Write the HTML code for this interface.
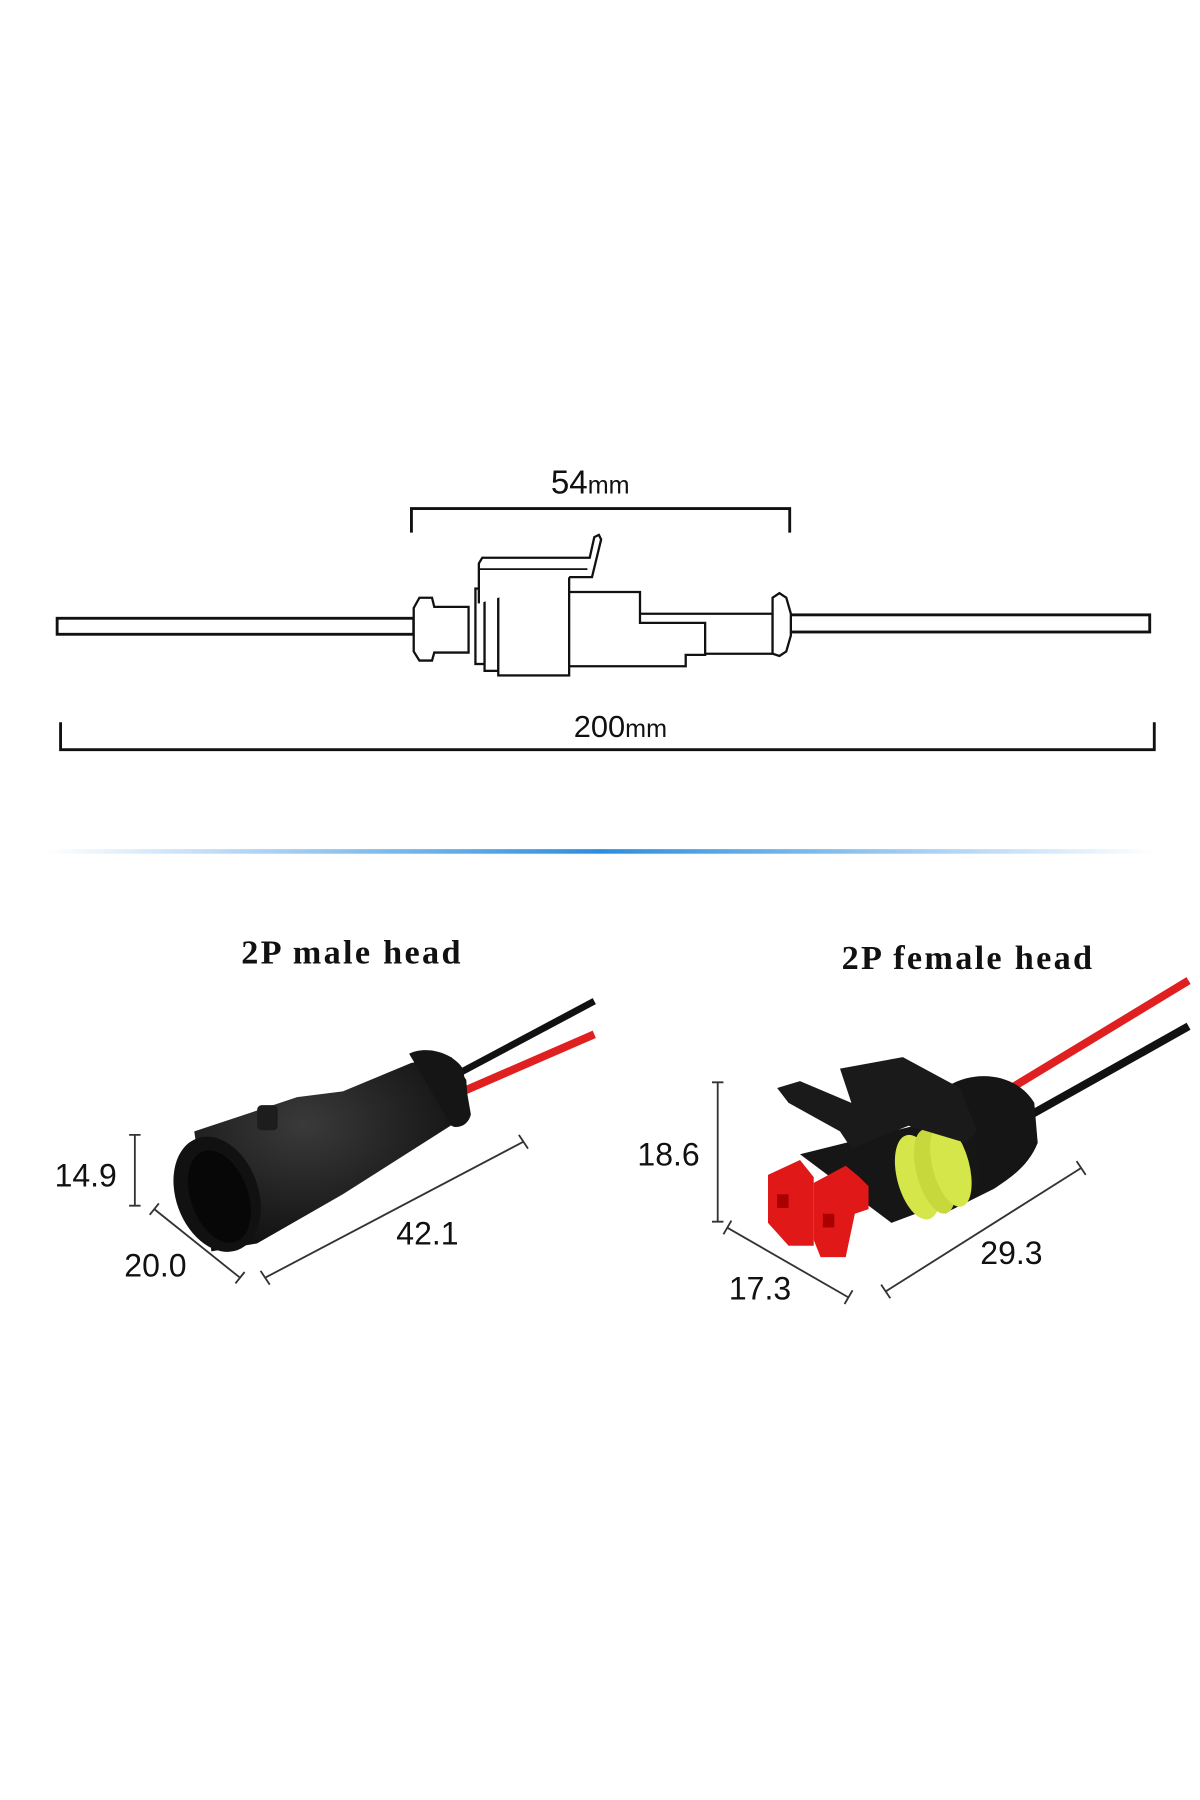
<!DOCTYPE html>
<html><head><meta charset="utf-8"><style>
html,body{margin:0;padding:0;background:#fff;}
svg{display:block;}
</style></head><body>
<svg width="1200" height="1800" viewBox="0 0 1050 1575" preserveAspectRatio="none" xmlns="http://www.w3.org/2000/svg">
<defs>
<linearGradient id="bl" x1="0" x2="1" y1="0" y2="0">
<stop offset="0" stop-color="#fff"/><stop offset="0.5" stop-color="#2a8ee0"/><stop offset="1" stop-color="#fff"/>
</linearGradient>
<radialGradient id="blk" cx="0.4" cy="0.35" r="0.7"><stop offset="0" stop-color="#3a3a3a"/><stop offset="1" stop-color="#0d0d0d"/></radialGradient>
</defs>
<rect width="1050" height="1575" fill="#fff"/>
<g fill="none" stroke="#111" stroke-width="2.5">
<path d="M360 466 V445 H691 V466"/>
<path d="M53 632 V656 H1010 V632"/>
<rect x="50" y="541" width="312" height="14" fill="#fff"/>
<rect x="690" y="538" width="316" height="15" fill="#fff"/>
<path d="M362 560 V532 L367 523 H378 L380 531 H410 V571 H380 L378 578 H367 L362 570 Z" fill="#fff" stroke-width="2"/>
<path d="M560 537 H676 V572 H560" fill="#fff" stroke-width="2"/>
<path d="M676 523 L682 519 L688 523 L692 537 V556 L688 570 L682 574 L676 572 Z" fill="#fff" stroke-width="2"/>
<path d="M497 518 H560 V545 H617 V573 H600 V583 H497" fill="#fff" stroke-width="2"/>
<rect x="416" y="515" width="8" height="66" fill="#fff" stroke-width="2"/>
<rect x="424" y="507" width="12" height="80" fill="#fff" stroke-width="2"/>
<rect x="436" y="503" width="62" height="88" fill="#fff" stroke-width="2"/>
<path d="M419 528 V493 L422 488 H516 L520 470 L524 468 L526 472 L518 505 H498" fill="#fff" stroke-width="2"/>
<path d="M420 498 H514" stroke-width="1.5"/>
</g>
<text x="482" y="432" font-family="Liberation Sans, sans-serif" font-size="29" fill="#111">54<tspan font-size="22">mm</tspan></text>
<text x="502" y="645" font-family="Liberation Sans, sans-serif" font-size="27" fill="#111">200<tspan font-size="22">mm</tspan></text>
<rect x="40" y="743" width="970" height="4" fill="url(#bl)"/>

<text x="308" y="843" text-anchor="middle" font-family="Liberation Serif, serif" font-weight="bold" font-size="30" letter-spacing="2" fill="#111">2P male head</text>
<text x="847" y="848" text-anchor="middle" font-family="Liberation Serif, serif" font-weight="bold" font-size="30" letter-spacing="2" fill="#111">2P female head</text>

<path d="M400 940 L520 876" stroke="#111" stroke-width="6"/>
<path d="M405 955 L520 905" stroke="#e02020" stroke-width="7"/>
<path d="M170 990 L260 960 L300 955 L360 930 L395 925 L408 945 L410 975 L300 1045 L225 1088 L185 1095 Z" fill="url(#blk)"/>
<path d="M358 922 C372 915 395 920 405 935 L412 975 C410 985 400 988 395 985 Z" fill="#151515"/>
<ellipse cx="190" cy="1045" rx="36" ry="52" transform="rotate(-20 190 1045)" fill="#111"/>
<ellipse cx="192" cy="1047" rx="25" ry="42" transform="rotate(-20 192 1047)" fill="#070707"/>
<rect x="225" y="967" width="18" height="22" rx="4" fill="#1d1d1d"/>

<g stroke="#333" stroke-width="1.6" fill="none">
<path d="M118 993 V1055 M113 993 H123 M113 1055 H123"/>
<path d="M135 1058 L210 1118 M131 1063 L139 1053 M206 1123 L214 1113"/>
<path d="M232 1118 L458 999 M228 1112 L236 1124 M454 993 L462 1005"/>
</g>
<text x="75" y="1038" text-anchor="middle" font-family="Liberation Sans, sans-serif" font-size="28" fill="#111">14.9</text>
<text x="136" y="1117" text-anchor="middle" font-family="Liberation Sans, sans-serif" font-size="28" fill="#111">20.0</text>
<text x="374" y="1089" text-anchor="middle" font-family="Liberation Sans, sans-serif" font-size="28" fill="#111">42.1</text>

<path d="M880 955 L1040 858" stroke="#e02020" stroke-width="7"/>
<path d="M885 985 L1040 898" stroke="#111" stroke-width="7"/>
<path d="M830 950 C855 935 890 940 905 965 L908 1000 C900 1020 885 1030 870 1040 L830 1060 Z" fill="#151515"/>
<path d="M700 1010 L800 985 L850 975 L860 1040 L780 1070 Z" fill="#161616"/>
<ellipse cx="803" cy="1030" rx="18" ry="38" transform="rotate(-15 803 1030)" fill="#d4e64a"/>
<ellipse cx="818" cy="1025" rx="16" ry="38" transform="rotate(-15 818 1025)" fill="#c6d83c"/>
<ellipse cx="832" cy="1020" rx="16" ry="37" transform="rotate(-15 832 1020)" fill="#d4e64a"/>
<path d="M680 952 L700 946 L745 965 L735 935 L790 925 L840 952 L855 990 L845 1000 L795 985 L745 1005 L735 990 L690 965 Z" fill="#1a1a1a"/>
<path d="M672 1028 L700 1015 L712 1030 L712 1090 L690 1090 L672 1070 Z" fill="#e01818"/>
<path d="M712 1035 L740 1020 L752 1030 L760 1038 L760 1058 L748 1062 L740 1100 L718 1100 L712 1085 Z" fill="#e01818"/>
<rect x="680" y="1045" width="10" height="12" fill="#a00"/>
<rect x="720" y="1062" width="10" height="12" fill="#a00"/>

<g stroke="#333" stroke-width="1.6" fill="none">
<path d="M628 947 V1069 M623 947 H633 M623 1069 H633"/>
<path d="M636 1074 L742 1135 M633 1080 L640 1068 M739 1141 L746 1129"/>
<path d="M775 1130 L946 1022 M771 1124 L779 1136 M942 1016 L950 1028"/>
</g>
<text x="585" y="1020" text-anchor="middle" font-family="Liberation Sans, sans-serif" font-size="28" fill="#111">18.6</text>
<text x="665" y="1137" text-anchor="middle" font-family="Liberation Sans, sans-serif" font-size="28" fill="#111">17.3</text>
<text x="885" y="1106" text-anchor="middle" font-family="Liberation Sans, sans-serif" font-size="28" fill="#111">29.3</text>
</svg>
</body></html>
